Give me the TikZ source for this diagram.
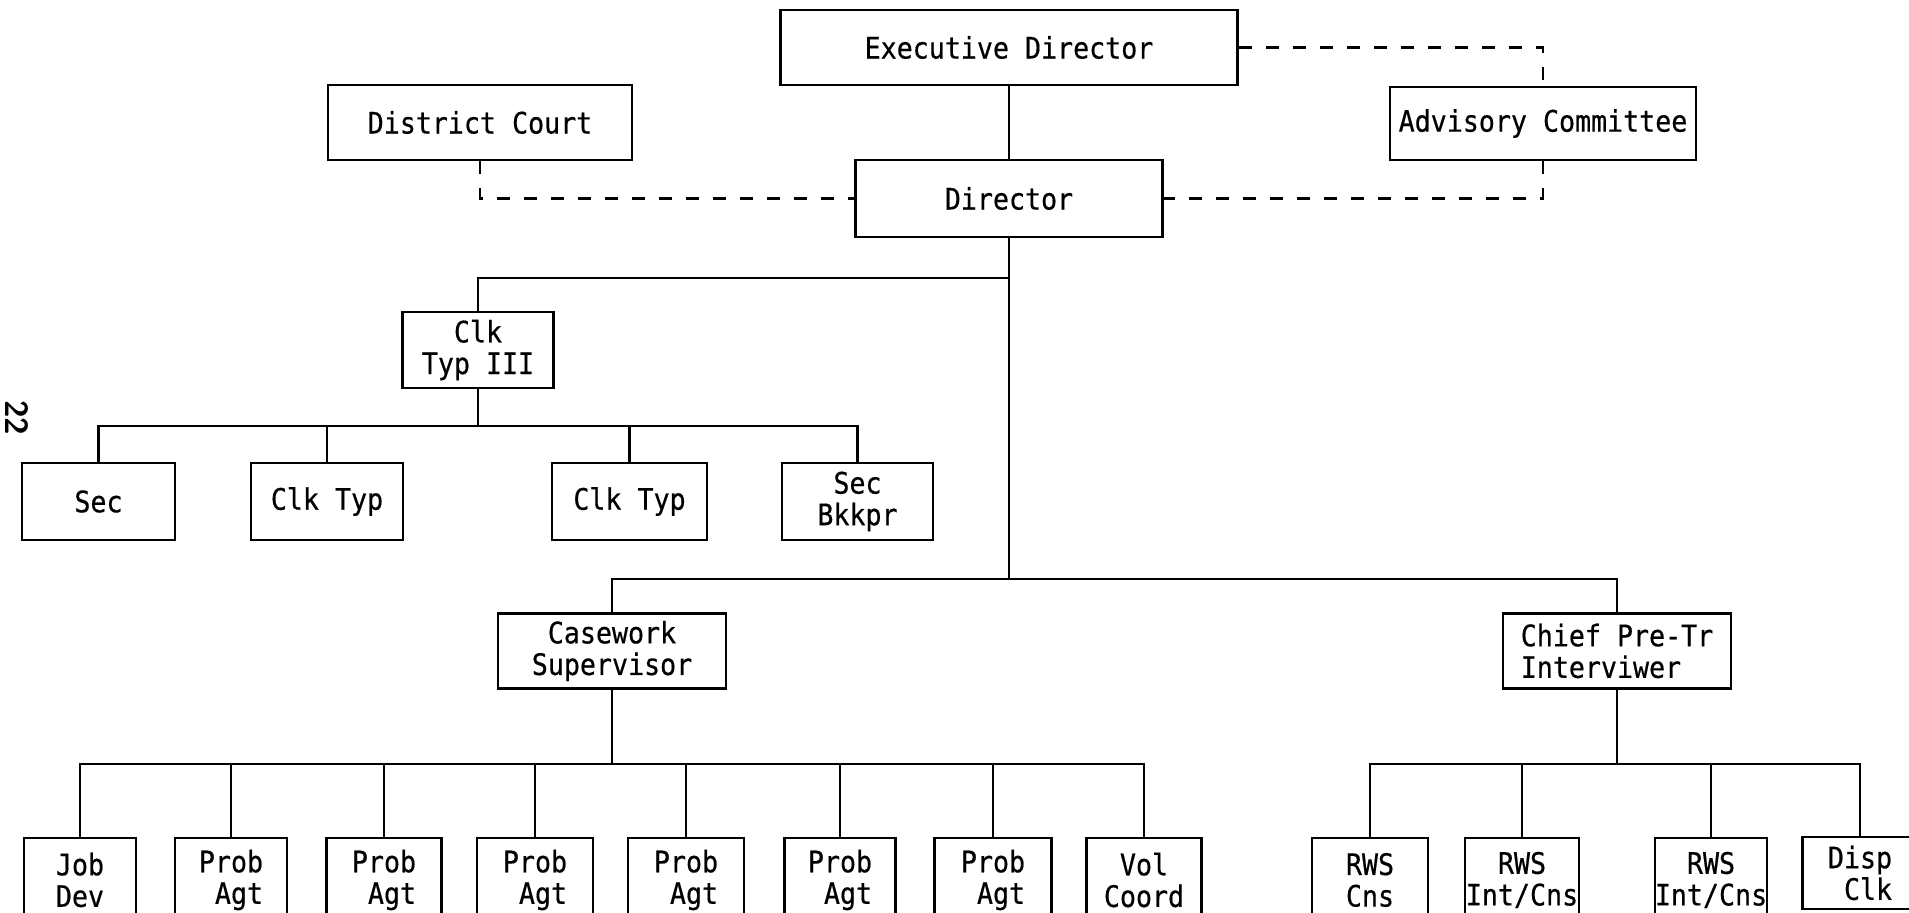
\documentclass[tikz,border=0pt]{standalone}
\usepackage{fontspec}
\newfontfamily\tw[FakeStretch=0.9,FakeBold=0.5]{DejaVu Sans Mono}
\begin{document}
\begin{tikzpicture}[x=0.5pt,y=-0.5pt,
  box/.style={draw,line width=1.3pt,rectangle,inner sep=0pt,align=center,
    font=\tw\fontsize{14.8}{15.8}\selectfont},
  lbox/.style={box,align=left},
  conn/.style={line width=1.3pt},
  dsh/.style={line width=1.3pt,dash pattern=on 6.5pt off 7pt},
  bot/.style={lbox,minimum width=57.5pt,minimum height=42pt}]
\useasboundingbox (0,0) rectangle (1909,913);
\clip (0,0) rectangle (1909,913);
\fill[white] (0,0) rectangle (1909,913);
% page number
\node[rotate=-90,font=\sffamily\bfseries\fontsize{16}{16}\selectfont] (pg) at (17,418) {22};
% top
\node[box,minimum width=228.5pt,minimum height=37.5pt] (exec) at (1009,47.5) {Executive Director};
\node[box,minimum width=152pt,minimum height=37.5pt] (dc) at (480,122.5) {District Court};
\node[box,minimum width=153pt,minimum height=36.5pt] (adv) at (1543,123.5) {Advisory Committee};
\node[box,minimum width=153.5pt,minimum height=38.5pt] (dir) at (1009,198.5) {Director};
\node[box,minimum width=75.5pt,minimum height=38pt] (clk3) at (478,350) {Clk\\Typ III};
% row 2
\node[box,minimum width=76.5pt,minimum height=38.5pt] (sec) at (98.5,501.5) {Sec};
\node[box,minimum width=76pt,minimum height=38.5pt] (ct1) at (327,501.5) {Clk Typ};
\node[box,minimum width=77.5pt,minimum height=38.5pt] (ct2) at (629.5,501.5) {Clk Typ};
\node[box,minimum width=75.5pt,minimum height=38.5pt] (bk) at (857.5,501.5) {Sec\\Bkkpr};
% row 3
\node[lbox,minimum width=114pt,minimum height=37.5pt] (cw) at (612,651) {\hphantom{C}Casework\\Supervisor};
\node[lbox,minimum width=114pt,minimum height=37.5pt] (chief) at (1617,651) {Chief Pre-Tr\\Interviwer};
% row 4
\node[bot,minimum width=56pt] (jd) at (80,880) {Job\\Dev};
\node[bot,minimum width=56pt] (p1) at (231,880) {Prob\\\hphantom{A}Agt};
\node[bot] (p2) at (384,880) {Prob\\\hphantom{A}Agt};
\node[bot,minimum width=58pt] (p3) at (535,880) {Prob\\\hphantom{A}Agt};
\node[bot,minimum width=58pt] (p4) at (686,880) {Prob\\\hphantom{A}Agt};
\node[bot,minimum width=55.5pt] (p5) at (840,880) {Prob\\\hphantom{A}Agt};
\node[bot,minimum width=58.5pt] (p6) at (993,880) {Prob\\\hphantom{A}Agt};
\node[bot] (vol) at (1144,880) {\hphantom{V}Vol\\Coord};
\node[bot,minimum width=58pt] (r1) at (1370,880) {RWS\\Cns};
\node[bot,minimum width=57pt] (r2) at (1522,880) {\hphantom{RW}RWS\\Int/Cns};
\node[bot,minimum width=56pt] (r3) at (1711,880) {\hphantom{RW}RWS\\Int/Cns};
\node[bot,minimum height=36pt] (disp) at (1860,873) {Disp\\\hphantom{C}Clk};
% junctions
\coordinate (dmid) at (1009,278);
\coordinate (dbot) at (1009,579);
\coordinate (bus2) at (478,426);
\coordinate (bus4) at (612,764);
\coordinate (bus5) at (1617,764);
% solid connectors
\draw[conn] (exec) -- (dir);
\draw[conn] (dir) -- (dbot);
\draw[conn] (dmid) -| (clk3);
\draw[conn] (clk3) -- (bus2);
\foreach \n in {sec,ct1,ct2,bk} \draw[conn] (bus2) -| (\n);
\draw[conn] (dbot) -| (cw);
\draw[conn] (dbot) -| (chief);
\draw[conn] (cw) -- (bus4);
\foreach \n in {jd,p1,p2,p3,p4,p5,p6,vol} \draw[conn] (bus4) -| (\n);
\draw[conn] (chief) -- (bus5);
\foreach \n in {r1,r2,r3,disp} \draw[conn] (bus5) -| (\n);
% dashed connectors
\draw[dsh] (exec.east) -| (adv.north);
\draw[dsh] (dc.south) |- (dir.west);
\draw[dsh] (adv.south) |- (dir.east);
\end{tikzpicture}
\end{document}
